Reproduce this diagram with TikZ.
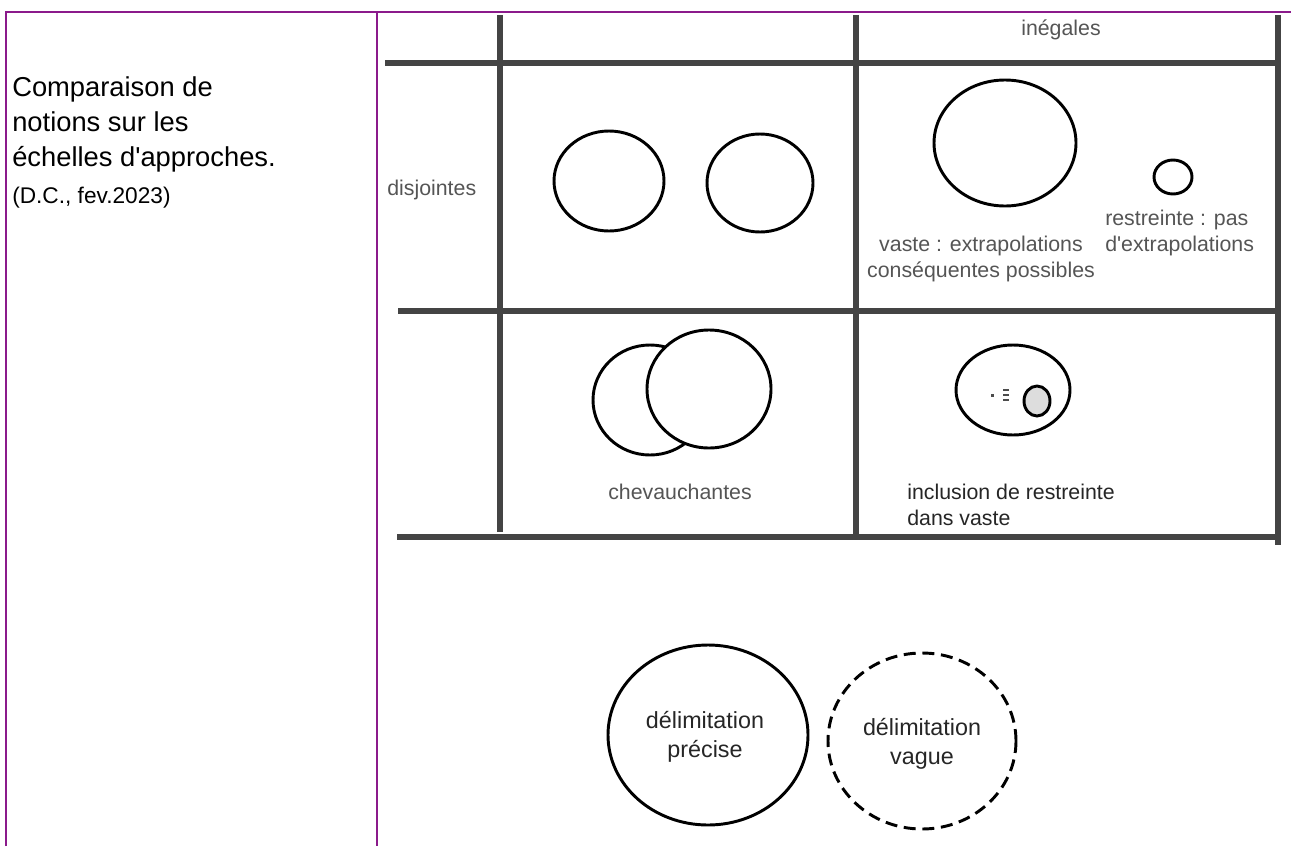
\documentclass[tikz,border=0pt]{standalone}
\usepackage{fontspec}
\setmainfont{Liberation Sans}
\newfontfamily\labfont{Liberation Sans}
\begin{document}
\begin{tikzpicture}[x=0.75pt,y=-0.75pt,
  frame/.style={draw=framepurple,line width=1.6pt},
  gridline/.style={draw=gridgrey,line width=3.8pt},
  circ/.style={draw=black,line width=2.2pt},
  lab/.style={text=labgrey,font=\labfont\fontsize{16}{20}\selectfont,inner sep=0pt,align=center},
  dlab/.style={text=black!85,font=\labfont\fontsize{17.5}{21.5}\selectfont,inner sep=0pt,align=center},
  titletxt/.style={text=black,inner sep=0pt,anchor=base west,font=\labfont\fontsize{20.5}{25}\selectfont}]
\definecolor{framepurple}{HTML}{8B1A8B}
\definecolor{gridgrey}{HTML}{444444}
\definecolor{labgrey}{HTML}{555555}
\definecolor{incgrey}{HTML}{DDDDDD}
\useasboundingbox (0,0) rectangle (1291,846);
\fill[white] (0,0) rectangle (1291,846);
% purple frame
\draw[frame] (6,846) -- (6,12) -- (1291,12);
\draw[frame] (377,12) -- (377,846);
% grid
\draw[gridline] (385,63) -- (1277,63);
\draw[gridline] (500,15) -- (500,532);
\draw[gridline] (856,15) -- (856,537);
\draw[gridline] (1278,15) -- (1278,545);
\draw[gridline] (398,311) -- (1278,311);
\draw[gridline] (397,537) -- (1281,537);
% title texts
\node[titletxt] (t1a) at (12,96) {Comparaison de};
\node[titletxt] (t1b) at (12,131) {notions sur les};
\node[titletxt] (t1c) at (12,166) {échelles d'approches.};
\node[titletxt,font=\labfont\fontsize{17}{21}\selectfont] (t2) at (12,203) {(D.C., fev.2023)};
% labels
\node[lab] (inegales) at (1061,30) {inégales};
\node[lab,anchor=west] (disj) at (387,190) {disjointes};
% disjoint circles
\draw[circ] (609,181) ellipse [x radius=55,y radius=50];
\draw[circ] (760,183) ellipse [x radius=53,y radius=49];
% vaste / restreinte
\draw[circ] (1005,143) ellipse [x radius=71,y radius=63];
\draw[circ] (1173,177) ellipse [x radius=19,y radius=17];
\node[lab] (vaste) at (981,259) {vaste : extrapolations\\conséquentes possibles};
\node[lab,align=left,anchor=west] (restr) at (1105,233) {restreinte : pas\\d'extrapolations};
% chevauchantes
\draw[circ] (650,400) ellipse [x radius=57,y radius=55];
\draw[circ,fill=white] (709,389) ellipse [x radius=62,y radius=59];
\node[lab] (chev) at (680,492) {chevauchantes};
% inclusion
\draw[circ] (1013,390) ellipse [x radius=57,y radius=45];
\draw[circ,fill=incgrey] (1037,401) ellipse [x radius=13,y radius=15];
\fill[black!70] (991,393.5) rectangle (994,396.5);
\fill[black!70] (1003,389) rectangle (1009,391);
\fill[black!70] (1003,394) rectangle (1009,396);
\fill[black!70] (1003,399) rectangle (1009,401);
\node[lab,text=black!85,align=left,anchor=west] (incl) at (907,505) {inclusion de restreinte\\dans vaste};
% delimitation
\draw[circ] (708,735) ellipse [x radius=100,y radius=90];
\node[dlab] (prec) at (705,737) {délimitation\\précise};
\draw[circ,dash pattern=on 9pt off 5pt] (922,741) ellipse [x radius=94,y radius=88];
\node[dlab] (vag) at (922,744) {délimitation\\vague};
\end{tikzpicture}
\end{document}
